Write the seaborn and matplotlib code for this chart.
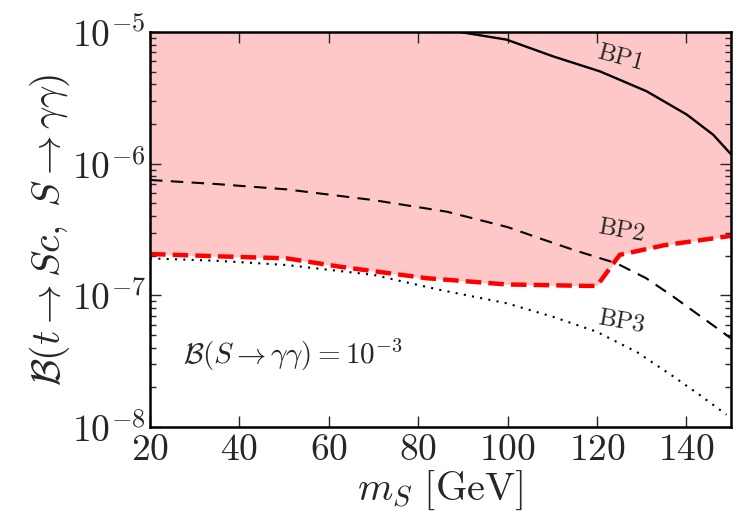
import numpy as np
import pandas as pd
import matplotlib
matplotlib.use("Agg")
import matplotlib.pyplot as plt
import seaborn as sns

# values
bp1_x = [85, 89.4, 99.8, 110.2, 120.7, 131.1, 140.1, 146.0, 150]
bp1_y = [1.07e-5, 1.0e-5, 8.75e-6, 6.53e-6, 5.02e-6, 3.55e-6, 2.36e-6, 1.66e-6, 1.18e-6]

bp2_x = [20, 35, 50.6, 70, 86.4, 100, 107.2, 115, 124.4, 131, 137.1, 143, 150]
bp2_y = [7.52e-7, 7.0e-7, 6.38e-7, 5.29e-7, 4.32e-7, 3.3e-7, 2.71e-7, 2.2e-7, 1.75e-7,
         1.35e-7, 9.77e-8, 7.0e-8, 4.72e-8]

bp3_x = [20, 35, 50.6, 70, 84.9, 99.8, 110, 119.9, 129, 137.1, 143, 149]
bp3_y = [1.91e-7, 1.83e-7, 1.70e-7, 1.43e-7, 1.10e-7, 8.71e-8, 6.9e-8, 5.30e-8,
         3.7e-8, 2.42e-8, 1.75e-8, 1.24e-8]

limit_x = [20, 35, 50.6, 62.5, 81.9, 99.8, 117.7, 120, 125.1, 135, 150]
limit_y = [2.06e-7, 1.98e-7, 1.91e-7, 1.65e-7, 1.35e-7, 1.21e-7, 1.18e-7, 1.18e-7,
           2.03e-7, 2.4e-7, 2.83e-7]

sns.set_style("ticks")
plt.rcParams["font.family"] = "serif"
plt.rcParams["font.serif"] = ["cmr10", "DejaVu Serif"]
plt.rcParams["mathtext.fontset"] = "cm"
plt.rcParams["axes.formatter.use_mathtext"] = True
plt.rcParams["axes.unicode_minus"] = False

fig = plt.figure(figsize=(7.47, 5.30), dpi=100)
ax = fig.add_axes([0.2008, 0.1943, 0.7778, 0.7453])

# excluded region above the limit
ax.fill_between(limit_x, limit_y, 1e-5, color="#ffc8c8", lw=0, zorder=0)

bp1 = pd.DataFrame({"m": bp1_x, "B": bp1_y})
bp2 = pd.DataFrame({"m": bp2_x, "B": bp2_y})
bp3 = pd.DataFrame({"m": bp3_x, "B": bp3_y})
lim = pd.DataFrame({"m": limit_x, "B": limit_y})

sns.lineplot(data=bp1, x="m", y="B", ax=ax, color="black", lw=1.7)
l2 = sns.lineplot(data=bp2, x="m", y="B", ax=ax, color="black", lw=1.5).lines[-1]
l2.set_dashes((6, 4))
l3 = sns.lineplot(data=bp3, x="m", y="B", ax=ax, color="black", lw=1.5).lines[-1]
l3.set_dashes((1, 3))
l4 = sns.lineplot(data=lim, x="m", y="B", ax=ax, color="red", lw=3.2).lines[-1]
l4.set_dashes((3.5, 1.6))

ax.set_yscale("log")
ax.set_xlim(20, 150)
ax.set_ylim(1e-8, 1e-5)
ax.set_xticks([20, 40, 60, 80, 100, 120, 140])

ax.text(125.3, 6.3e-6, "BP1", fontsize=18, rotation=-15, ha="center", va="center")
ax.text(125.5, 3.1e-7, "BP2", fontsize=18, rotation=-10, ha="center", va="center")
ax.text(125.5, 6.3e-8, "BP3", fontsize=18, rotation=-10, ha="center", va="center")
ax.text(52, 3.5e-8, r"$\mathcal{B}(S\to\gamma\gamma) = 10^{-3}$", fontsize=21,
        ha="center", va="center")

ax.set_xlabel(r"$m_S\ [\mathrm{GeV}]$", fontsize=29, labelpad=1)
ax.set_ylabel(r"$\mathcal{B}(t\to Sc,\ S\to\gamma\gamma)$", fontsize=28.5, labelpad=0)

ax.tick_params(which="both", direction="in", top=True, right=True, labelsize=27)
ax.tick_params(which="major", length=8, width=1)
ax.tick_params(which="minor", length=4, width=1)
ax.tick_params(axis="x", pad=5)
ax.tick_params(axis="y", pad=3)
for s in ax.spines.values():
    s.set_linewidth(1.8)
    s.set_color("black")

fig.savefig("out.png", dpi=100)
